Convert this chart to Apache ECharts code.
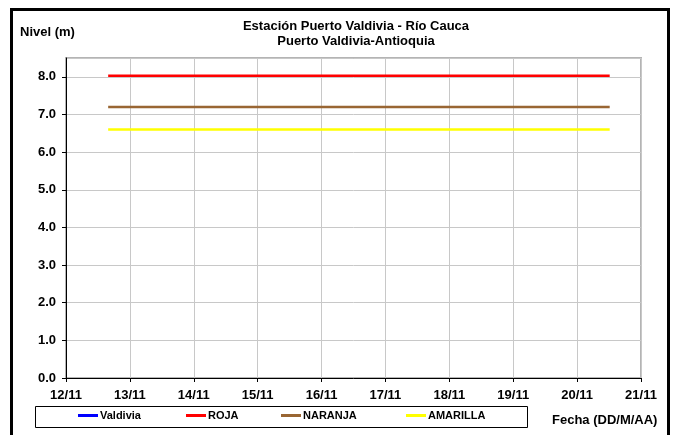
<!DOCTYPE html>
<html>
<head>
<meta charset="utf-8">
<script src="https://cdn.jsdelivr.net/npm/echarts@6/dist/echarts.min.js"></script>
<style>
  html, body { margin: 0; padding: 0; background: #fff; }
  #chart { width: 674px; height: 435px; }
</style>
</head>
<body>
<div id="chart"></div>
<script>
// días de noviembre (fraccion = hora del día)
const fechas = [12.66, 20.51]
const valdivia = []
const roja = [8.03, 8.03]
const naranja = [7.2, 7.2]
const amarilla = [6.6, 6.6]
const xTicks = ['12/11', '13/11', '14/11', '15/11', '16/11', '17/11', '18/11', '19/11', '20/11', '21/11']

const font = '"Liberation Sans", Arial, sans-serif'
const pairs = (ys) => ys.map((y, i) => [fechas[i], y])

const chart = echarts.init(document.getElementById('chart'))

const legendAt = (name, left) => ({
  data: [name],
  left: left,
  top: 410,
  icon: 'rect',
  itemWidth: 20,
  itemHeight: 3,
  itemGap: 0,
  padding: 0,
  selectedMode: false,
  textStyle: { fontFamily: font, fontSize: 11, fontWeight: 'bold', color: '#000', padding: [0, 0, 0, -3] }
})

const option = {
  backgroundColor: '#fff',
  animation: false,
  title: {
    text: 'Estación Puerto Valdivia - Río Cauca\nPuerto Valdivia-Antioquia',
    left: 351,
    top: 14,
    textAlign: 'center',
    textStyle: { fontFamily: font, fontSize: 13, fontWeight: 'bold', color: '#000', lineHeight: 15 }
  },
  legend: [
    legendAt('Valdivia', 78),
    legendAt('ROJA', 186),
    legendAt('NARANJA', 281),
    legendAt('AMARILLA', 406)
  ],
  grid: {
    left: 66, right: 33, top: 58, bottom: 57,
    show: true, borderColor: '#b4b4b4', borderWidth: 2
  },
  xAxis: {
    type: 'value',
    min: 12, max: 21, interval: 1,
    axisLine: { lineStyle: { color: '#000', width: 1 } },
    axisTick: { show: true, length: 4, lineStyle: { color: '#000' } },
    axisLabel: {
      margin: 11,
      fontFamily: font, fontSize: 13, fontWeight: 'bold', color: '#000',
      formatter: (v) => xTicks[Math.round(v) - 12]
    },
    splitLine: { show: true, lineStyle: { color: '#c8c8c8', width: 1 } }
  },
  yAxis: {
    type: 'value',
    min: 0, max: 8.5, interval: 1,
    axisLine: { show: true, lineStyle: { color: '#000', width: 1 } },
    axisTick: { show: true, length: 4, lineStyle: { color: '#000' } },
    axisLabel: {
      margin: 10,
      showMaxLabel: false,
      fontFamily: font, fontSize: 13, fontWeight: 'bold', color: '#000',
      formatter: (v) => Number.isInteger(v) ? v.toFixed(1) : ''
    },
    splitLine: { show: true, lineStyle: { color: '#c8c8c8', width: 1 } }
  },
  series: [
    { name: 'Valdivia', type: 'line', data: pairs(valdivia), showSymbol: false, color: '#0000ff', lineStyle: { width: 2.5 } },
    { name: 'ROJA', type: 'line', data: pairs(roja), showSymbol: false, color: '#ff0000', lineStyle: { width: 2.5 } },
    { name: 'NARANJA', type: 'line', data: pairs(naranja), showSymbol: false, color: '#996633', lineStyle: { width: 2.5 } },
    { name: 'AMARILLA', type: 'line', data: pairs(amarilla), showSymbol: false, color: '#ffff00', lineStyle: { width: 2.5 } }
  ],
  graphic: [
    { type: 'rect', shape: { x: 11.5, y: 9.5, width: 657, height: 450 }, style: { fill: 'none', stroke: '#000', lineWidth: 3 }, silent: true },
    { type: 'rect', shape: { x: 35.5, y: 406.5, width: 492, height: 21 }, style: { fill: 'none', stroke: '#000', lineWidth: 1 }, silent: true },
    { type: 'text', left: 20, top: 26, style: { text: 'Nivel (m)', font: 'bold 13px ' + font, fill: '#000' } },
    { type: 'text', left: 552, top: 414, style: { text: 'Fecha (DD/M/AA)', font: 'bold 13px ' + font, fill: '#000' } }
  ]
}

chart.setOption(option)
</script>
</body>
</html>
